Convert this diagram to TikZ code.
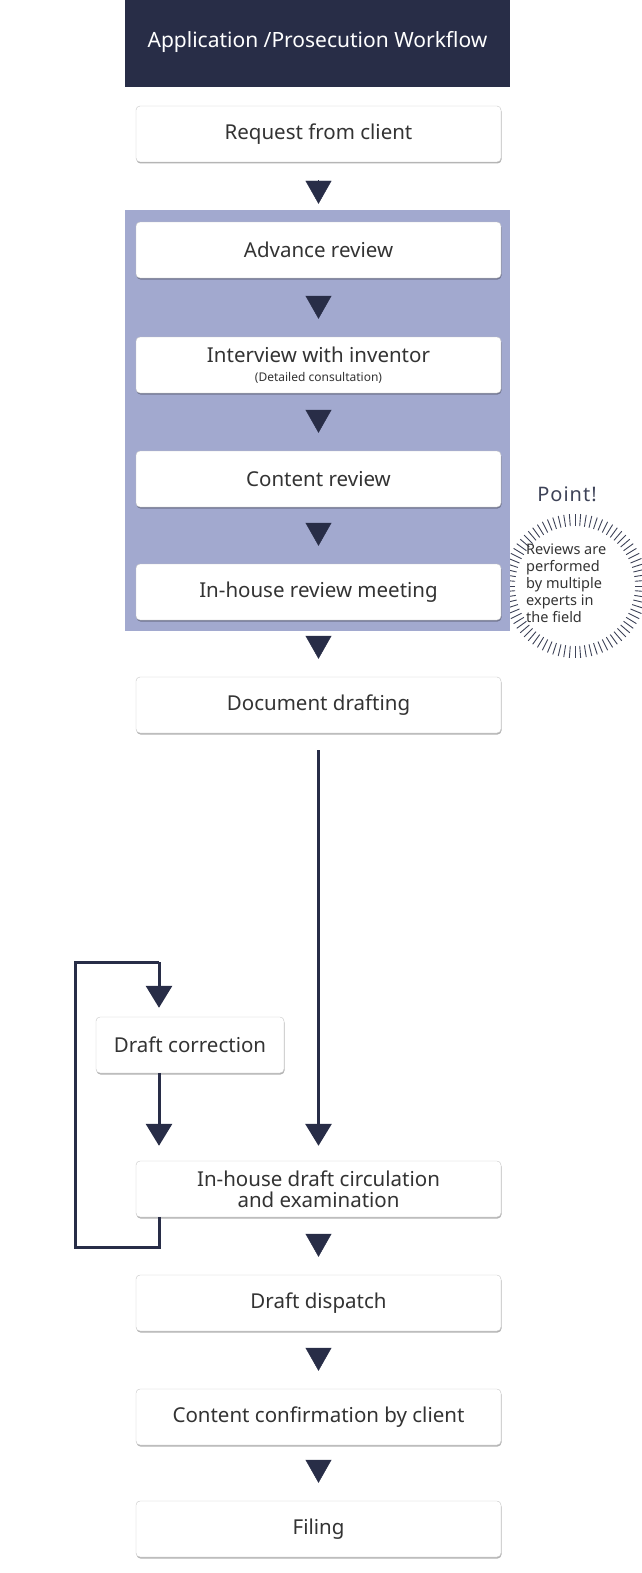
\documentclass[tikz,border=0pt]{standalone}
\usepackage{fontspec}
\setmainfont{Noto Sans}
\usetikzlibrary{arrows.meta,shadows}
\definecolor{navy}{HTML}{282D47}
\definecolor{panel}{HTML}{A2A9CF}
\definecolor{boxtext}{HTML}{333333}
\definecolor{pointtext}{HTML}{3D4257}
\tikzset{
  stepbox/.style={draw=black!22, fill=white, rounded corners=4pt, minimum width=365pt, minimum height=56pt,
    text=boxtext, font=\fontsize{20.5}{24}\selectfont, align=center, inner sep=0pt,
    drop shadow={shadow xshift=0.5pt, shadow yshift=-1.5pt, opacity=0.3, fill=black}},
  flow/.style={draw=navy, -{Triangle[width=26pt,length=23pt]}, shorten <=18pt, shorten >=18pt},
  loopline/.style={draw=navy, line width=3pt},
  looptip/.style={loopline, -{Triangle[width=26pt,length=22pt]}},
  tick/.style={draw=pointtext, line width=0.9pt}
}
\begin{document}
\begin{tikzpicture}[x=1pt,y=-1pt]
            \useasboundingbox (0,0) rectangle (642,1573);
            %Point circle (behind the panel)
            \coordinate (pt) at (575,586);
            \foreach \a in {0,4.5,...,355.5}
              \draw[tick] ([shift={(\a:60)}]pt) -- ([shift={(\a:72)}]pt);

            %Header and panel
            \fill[navy] (125,0) rectangle (510,87);
            \node[text=white, font=\fontsize{21}{25}\selectfont] (head) at (317.5,42) {Application /Prosecution Workflow};
            \fill[panel] (125,210) rectangle (510,631);

            %Nodes
            \node[stepbox] at (318.5,134)  (req)  {Request from client};
            \node[stepbox] at (318.5,250)  (adv)  {Advance review};
            \node[stepbox] at (318.5,365)  (intv) {Interview with inventor\\[-5pt]{\fontsize{12}{13}\selectfont (Detailed consultation)}};
            \node[stepbox] at (318.5,479)  (cont) {Content review};
            \node[stepbox] at (318.5,592)  (meet) {In-house review meeting};
            \node[stepbox] at (318.5,705)  (doc)  {Document drafting};
            \node[stepbox, minimum width=188pt] at (190,1045) (corr) {Draft correction};
            \node[stepbox] at (318.5,1189) (circ) {In-house draft circulation\\[-3pt]and examination};
            \node[stepbox] at (318.5,1303) (disp) {Draft dispatch};
            \node[stepbox] at (318.5,1417) (conf) {Content confirmation by client};
            \node[stepbox] at (318.5,1529) (fil)  {Filing};
            \node[text=pointtext, font=\bfseries\fontsize{20}{22}\selectfont] at (567,494) (point) {P\kern1pt o\kern1pt i\kern1pt n\kern1pt t\kern1pt !};
            \node[text=boxtext, anchor=north west, align=left, inner sep=0pt, font=\fontsize{14.5}{17}\selectfont] at (526,544) (pnote)
              {Reviews are\\performed\\by multiple\\experts in\\the field};
            \coordinate (lpa) at (159,1217);
            \coordinate (lpb) at (159,1247);
            \coordinate (lpc) at (75,1247);
            \coordinate (lpd) at (75,962);
            \coordinate (lpe) at (159,962);

            %Lines
            \draw[flow] (req) -- (adv);
            \draw[flow] (adv) -- (intv);
            \draw[flow] (intv) -- (cont);
            \draw[flow] (cont) -- (meet);
            \draw[flow] (meet) -- (doc);
            \draw[flow] (circ) -- (disp);
            \draw[flow] (disp) -- (conf);
            \draw[flow] (conf) -- (fil);
            \draw[looptip, shorten <=17pt, shorten >=15pt] (doc) -- (circ);
            \draw[loopline] (lpa) -- (lpb) -- (lpc) -- (lpd) -- (lpe);
            \draw[looptip, shorten >=9pt] (lpe) -- (corr.north -| lpe);
            \draw[looptip, shorten >=15pt] (corr.south -| lpe) -- (circ.north -| lpe);
        \end{tikzpicture}
\end{document}
